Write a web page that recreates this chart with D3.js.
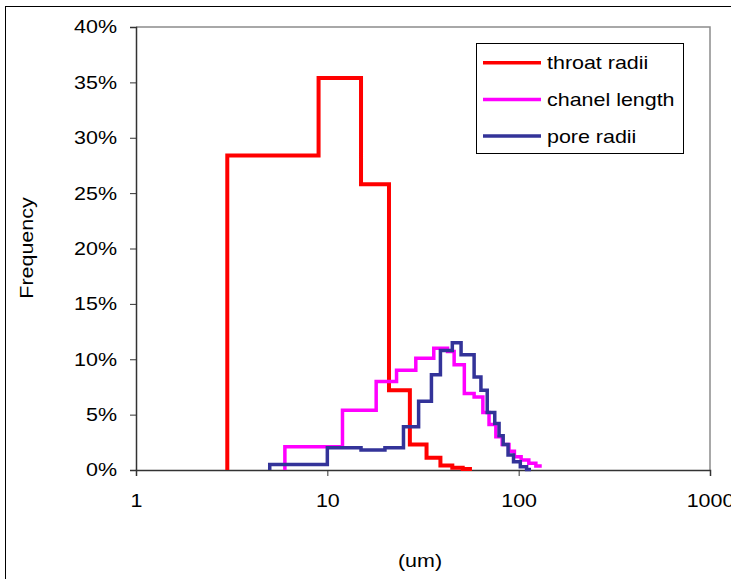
<!DOCTYPE html>
<html>
<head>
<meta charset="utf-8">
<script src="https://cdn.jsdelivr.net/npm/d3@7"></script>
<style>
  body { margin: 0; background: #fff; }
  text { font-family: "Liberation Sans", Arial, sans-serif; font-size: 18.5px; fill: #000; }
</style>
</head>
<body>
<div class="chart"></div>
<script>
// bin edges (um) and frequency (%) for each step series
var throatEdges = [3, 9, 15, 21, 27, 33, 39, 45, 51, 57];
var throatFreq = [28.4, 35.4, 25.8, 7.2, 2.3, 1.1, 0.4, 0.2, 0.1];

var chanelEdges = [6, 12, 18, 23, 29, 36, 42.5, 46, 52, 58.5, 65, 70, 76, 82, 89, 95, 103, 113, 123, 132];
var chanelFreq = [2.1, 5.4, 8.0, 9.0, 10.1, 11.0, 10.7, 9.5, 6.9, 6.6, 5.2, 4.1, 3.0, 2.3, 1.7, 1.2, 0.9, 0.6, 0.35];

var poreEdges = [5, 10, 15, 20, 25, 30, 35, 39, 45, 50, 58.5, 63.5, 68.5, 75, 79, 83, 88, 94, 102, 110, 116];
var poreFreq = [0.5, 2.0, 1.8, 2.0, 3.9, 6.2, 8.6, 10.8, 11.5, 10.4, 8.4, 7.2, 5.2, 4.2, 3.1, 2.3, 1.35, 0.75, 0.3, 0.05];

var seriesNames = ["throat radii", "chanel length", "pore radii"];
var seriesColors = ["#ff0000", "#ff00ff", "#333399"];

var xTicks = [1, 10, 100, 1000];
var yTicks = [0, 5, 10, 15, 20, 25, 30, 35, 40];

var SX = 1.16; // text in the picture is a bit wider than Arial

var svg = d3.select(".chart").append("svg")
  .attr("width", 731)
  .attr("height", 579);

// outer chart frame (runs off the right and bottom)
svg.append("rect")
  .attr("x", 5.5).attr("y", 6.5)
  .attr("width", 760).attr("height", 620)
  .attr("fill", "none").attr("stroke", "#000").attr("stroke-width", 1);

var x = d3.scaleLog().domain([1, 1000]).range([136, 710]);
var y = d3.scaleLinear().domain([0, 40]).range([470, 27]);

// gray plot border top and right
svg.append("path")
  .attr("d", "M" + x(1) + "," + y(40) + "H" + x(1000) + "V" + y(0))
  .attr("fill", "none").attr("stroke", "#8c8c8c").attr("stroke-width", 1.5);

// y axis
var yAxis = svg.append("g")
  .attr("transform", "translate(" + x(1) + ",0)")
  .call(d3.axisLeft(y).tickValues(yTicks).tickSize(6).tickFormat(function (d) { return d + "%"; }));
yAxis.select(".domain").attr("stroke", "#333").attr("stroke-width", 1.5);
yAxis.selectAll(".tick line").attr("stroke", "#333");
yAxis.selectAll(".tick text")
  .attr("x", -19 / SX)
  .attr("transform", "scale(" + SX + ",1)")
  .style("font-size", "18.5px");

// x axis
var xAxis = svg.append("g")
  .attr("transform", "translate(0," + y(0) + ")")
  .call(d3.axisBottom(x).tickValues(xTicks).tickSize(6).tickFormat(d3.format("d")));
xAxis.select(".domain").attr("stroke", "#333").attr("stroke-width", 1.5);
xAxis.selectAll(".tick line").attr("stroke", "#333");
xAxis.selectAll(".tick text")
  .attr("y", 37).attr("dy", 0)
  .attr("transform", "scale(" + SX + ",1)")
  .attr("x", 0)
  .style("font-size", "18.5px");
// keep centered after scale
xAxis.selectAll(".tick text").attr("transform", null)
  .each(function () {
    d3.select(this).attr("transform", "scale(" + SX + ",1)");
  });

// axis titles
svg.append("text")
  .attr("transform", "translate(420,567) scale(" + SX + ",1)")
  .attr("text-anchor", "middle")
  .text("(um)");

svg.append("text")
  .attr("transform", "translate(33,248) rotate(-90) scale(" + SX + ",1)")
  .attr("text-anchor", "middle")
  .text("Frequency");

// step line: start on the axis, then hold each value over its bin
function stepPoints(edges, freq) {
  var pts = [[edges[0], 0]];
  freq.forEach(function (f, i) {
    pts.push([edges[i], f]);
    pts.push([edges[i + 1], f]);
  });
  return pts;
}

var line = d3.line()
  .x(function (d) { return x(d[0]); })
  .y(function (d) { return y(d[1]); });

var series = [
  { pts: stepPoints(throatEdges, throatFreq), width: 4 },
  { pts: stepPoints(chanelEdges, chanelFreq), width: 3.5 },
  { pts: stepPoints(poreEdges, poreFreq), width: 3.5 }
];

svg.append("g").selectAll("path")
  .data(series)
  .enter()
  .append("path")
  .attr("d", function (d) { return line(d.pts); })
  .attr("fill", "none")
  .attr("stroke", function (d, i) { return seriesColors[i]; })
  .attr("stroke-width", function (d) { return d.width; })
  .attr("stroke-linejoin", "miter");

// legend
var legend = svg.append("g");
legend.append("rect")
  .attr("x", 476.5).attr("y", 43.5)
  .attr("width", 207).attr("height", 110)
  .attr("fill", "#fff").attr("stroke", "#000").attr("stroke-width", 1);

var rows = legend.selectAll("g.row")
  .data(seriesNames)
  .enter()
  .append("g")
  .attr("class", "row")
  .attr("transform", function (d, i) { return "translate(0," + (62.7 + i * 36.7) + ")"; });

rows.append("line")
  .attr("x1", 483).attr("x2", 541)
  .attr("y1", 0).attr("y2", 0)
  .attr("stroke", function (d, i) { return seriesColors[i]; })
  .attr("stroke-width", 3.5);

rows.append("text")
  .attr("transform", "translate(547,6.5) scale(" + SX + ",1)")
  .text(function (d) { return d; });
</script>
</body>
</html>
